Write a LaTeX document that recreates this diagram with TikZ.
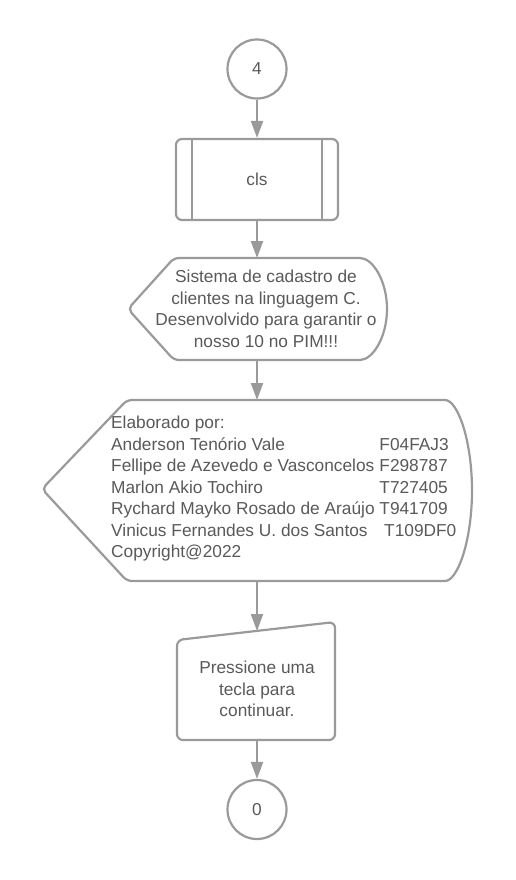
\documentclass[tikz,border=0pt]{standalone}
\usepackage{fontspec}
\setmainfont{Liberation Sans}
\usetikzlibrary{arrows.meta}

\definecolor{linegray}{HTML}{9A9A9A}
\definecolor{textgray}{HTML}{595959}

\tikzset{
	flow/.style = {draw = linegray, line width = 2.2pt},
	arrow/.style = {draw = linegray, line width = 2.2pt, -{Triangle[length = 17pt, width = 12pt]}},
	connector/.style = {flow, circle, minimum size = 59pt, inner sep = 0pt},
	txt/.style = {text = textgray, font = \fontsize{17.3}{21.5}\selectfont, align = center, inner sep = 0pt}
}

\begin{document}
\begin{tikzpicture}[x = 1pt, y = -1pt]
	 \useasboundingbox (0, 0) rectangle (515, 880);

	 \node[connector, txt] (four) at (257, 69) {4};

	 \node[flow, txt, rounded corners = 6pt, minimum width = 162pt, minimum height = 81pt] (cls) at (257, 179.5) {cls};
	 \draw[flow] ([xshift = 17pt] cls.north west) -- ([xshift = 17pt] cls.south west);
	 \draw[flow] ([xshift = -17pt] cls.north east) -- ([xshift = -17pt] cls.south east);

	 % display: sistema
	 \draw[flow, rounded corners = 5pt] (174, 258) -- (355, 258) arc[start angle = 90, end angle = -90, x radius = 32pt, y radius = 51pt] -- (174, 360) -- (128, 309) -- cycle;
	 \coordinate (sistop) at (257, 258);
	 \coordinate (sisbot) at (257, 360);
	 \node[txt] (sis) at (266, 309) {Sistema de cadastro de\\clientes na linguagem C.\\Desenvolvido para garantir o\\nosso 10 no PIM!!!};

	 % display: elaborado
	 \draw[flow, rounded corners = 5pt] (127, 400) -- (440, 400) arc[start angle = 90, end angle = -90, x radius = 32pt, y radius = 90.5pt] -- (127, 581) -- (42, 489) -- cycle;
	 \coordinate (elabtop) at (257, 400);
	 \coordinate (elabbot) at (257, 581);
	 \node[txt, anchor = west, align = left] (elab) at (111, 489) {%
	 	\begin{tabular}{@{}l@{ }l@{}}
	 	\multicolumn{2}{@{}l@{}}{Elaborado por:}\\
	 	Anderson Tenório Vale & F04FAJ3\\
	 	Fellipe de Azevedo e Vasconcelos & F298787\\
	 	Marlon Akio Tochiro & T727405\\
	 	Rychard Mayko Rosado de Araújo & T941709\\
	 	Vinicus Fernandes U. dos Santos & \ T109DF0\\
	 	\multicolumn{2}{@{}l@{}}{Copyright@2022}
	 	\end{tabular}};

	 % manual input
	 \draw[flow, rounded corners = 6pt] (177, 640) -- (335, 622) -- (335, 740) -- (177, 740) -- cycle;
	 \coordinate (prestop) at (257, 631);
	 \coordinate (presbot) at (257, 740);
	 \node[txt] (pres) at (257, 689) {Pressione uma\\tecla para\\continuar.};

	 \node[connector, txt] (zero) at (257, 809.5) {0};

	 \draw[arrow] (four) -- (cls);
	 \draw[arrow] (cls) -- (sistop);
	 \draw[arrow] (sisbot) -- (elabtop);
	 \draw[arrow] (elabbot) -- (prestop);
	 \draw[arrow] (presbot) -- (zero);
\end{tikzpicture}
\end{document}
